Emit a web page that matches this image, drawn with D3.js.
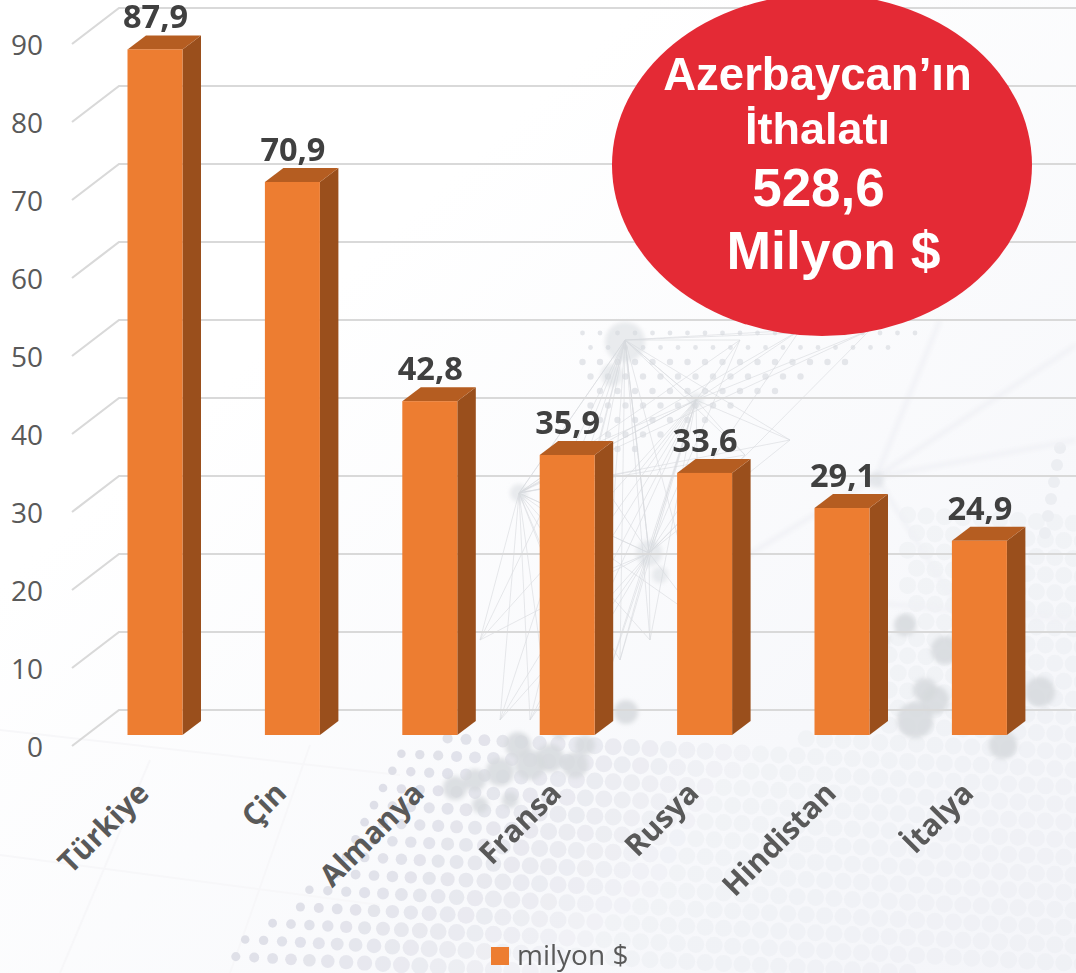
<!DOCTYPE html>
<html><head><meta charset="utf-8">
<script src="https://cdnjs.cloudflare.com/ajax/libs/d3/7.8.5/d3.min.js"></script>
<style>html,body{margin:0;padding:0;background:#fff;overflow:hidden}svg{display:block}text{font-family:"Open Sans",sans-serif}</style>
</head><body><svg id="c" width="1076" height="973"></svg>
<script>
const categories=["Türkiye","Çin","Almanya","Fransa","Rusya","Hindistan","İtalya"];
const values=[87.9,70.9,42.8,35.9,33.6,29.1,24.9];
const valueLabels=["87,9","70,9","42,8","35,9","33,6","29,1","24,9"];
const yTicks=[0,10,20,30,40,50,60,70,80,90];
const legendLabel="milyon $";
const calloutLines=["Azerbaycan’ın","İthalatı","528,6"," Milyon $"];

const svg=d3.select("#c");
const defs=svg.append("defs");
const g=defs.append("linearGradient").attr("id","bg").attr("x1",0).attr("y1",0).attr("x2",1).attr("y2",1);
g.append("stop").attr("offset",.3).attr("stop-color","#ffffff");
g.append("stop").attr("offset",.75).attr("stop-color","#f7f8fb");
g.append("stop").attr("offset",1).attr("stop-color","#f4f5f9");
svg.append("rect").attr("width",1076).attr("height",973).attr("fill","url(#bg)");
defs.append("filter").attr("id","b1").append("feGaussianBlur").attr("stdDeviation",.7);
defs.append("filter").attr("id","b2").append("feGaussianBlur").attr("stdDeviation",2);

// decorative background (not data)
const deco=svg.append("g");
// faint perspective lines lower left
[[0,730,400,775],[0,855,380,905],[150,760,60,973],[310,745,230,973]].forEach(l=>deco.append("line").attr("x1",l[0]).attr("y1",l[1]).attr("x2",l[2]).attr("y2",l[3]).attr("stroke","#f7f7f9").attr("stroke-width",2));
// lower dot field
const leftEdge=y=>y<880?405-(y-745)*.63:320-(y-880)*1.3;
for(let r=-4;r<24;r++){for(let c=0;c<62;c++){
  const x=190+c*18.4+(r%2?9:0);
  const y=560+r*17.6+(x-400)*.05;
  const left=leftEdge(y);
  if(x<left||y>973) continue;
  if(y<738&&x<830) continue;
  if(y<620&&x<900) continue;
  const d=x-left;
  const o=Math.max(.2,1-d/430);
  deco.append("circle").attr("cx",x).attr("cy",y).attr("r",Math.min(8.5,4.2+d/45)).attr("fill","#dcdde6").attr("opacity",o*.95);
}}
// upper small dots
for(let r=0;r<10;r++){for(let c=0;c<24;c++){
  const y=333+r*14.5; const x=565+c*17.5+(r%2?8:0);
  if(x>925-r*36||x<575+r*3) continue;
  deco.append("circle").attr("cx",x).attr("cy",y).attr("r",r<2?2.4:3.2).attr("fill","#e4e6ea");
}}
for(let r=0;r<6;r++){deco.append("circle").attr("cx",1060-r*3).attr("cy",448+r*17).attr("r",6).attr("fill","#eceef2");}
// network lines
const net=deco.append("g").attr("filter","url(#b1)");
const fans=[[625,340],[696,400],[519,493],[649,553]];
const far=[[625,340],[696,400],[519,493],[649,553],[580,450],[745,455],[790,440],[740,340],[800,330],[870,330],[480,640],[500,720],[530,720],[550,720],[620,660],[600,700],[650,640],[700,620],[560,590],[640,470]];
fans.forEach(h=>far.forEach(f=>net.append("line").attr("x1",h[0]).attr("y1",h[1]).attr("x2",f[0]).attr("y2",f[1]).attr("stroke","#d8dade").attr("stroke-width",1).attr("opacity",.6)));
const rays=deco.append("g").attr("filter","url(#b2)");
[[876,477,1076,345],[876,477,940,320],[876,477,1076,440],[876,477,960,610],[876,477,740,560],[840,600,1076,620]].forEach(l=>rays.append("line").attr("x1",l[0]).attr("y1",l[1]).attr("x2",l[2]).attr("y2",l[3]).attr("stroke","#f0f1f5").attr("stroke-width",4));
// blobs
const blobs=deco.append("g").attr("filter","url(#b2)");
[[625,342,20],[612,375,11],[519,493,9],[696,400,7],[649,553,13],[660,575,8],[876,480,8],[626,712,12],[518,745,13],[575,765,13],[455,788,12],[475,780,11],[500,772,14],[530,765,15],[550,758,14],[585,745,10],[560,730,9],[480,805,8],[510,800,8],[1040,692,15],[1003,745,14],[915,720,18],[925,690,12],[905,625,11],[945,650,14],[935,700,14],[880,640,9],[860,625,7]]
 .forEach(b=>blobs.append("circle").attr("cx",b[0]).attr("cy",b[1]).attr("r",b[2]).attr("fill","#d6d9dd").attr("opacity",b[1]<600?.5:.85));

// scales
const y=d3.scaleLinear().domain([0,90]).range([735,33]);
const bw=55, step=137.4;
const x=d3.scaleBand().domain(categories).range([127.5-41.2,127.5-41.2+step*7]).paddingInner(1-bw/step).paddingOuter((1-bw/step)/2);
const dx=18.5, dy=14, frontOff=11, backOff=-25, gridL=72, gridB=119;

// gridlines
svg.append("g").selectAll("path").data(yTicks).join("path")
 .attr("d",v=>d3.line()([[gridL,y(v)+frontOff],[gridB,y(v)+backOff],[1076,y(v)+backOff]]))
 .attr("fill","none").attr("stroke","#d9d9d9").attr("stroke-width",2.2);

// y axis
const yAxis=svg.append("g").attr("transform",`translate(43,${frontOff+2})`).call(d3.axisLeft(y).tickValues(yTicks).tickSize(0).tickPadding(0).tickFormat(d3.format("d")));
yAxis.select(".domain").remove();
yAxis.selectAll("text").attr("font-size",28).attr("fill","#595959").style("font-family",'"Open Sans",sans-serif');

// bars
const bars=svg.append("g").selectAll("g").data(categories).join("g");
bars.append("path").attr("fill","#9a4f1c").attr("d",(d,i)=>{const X=x(d)+bw,T=y(values[i]),B=y(0);return d3.line()([[X,T],[X+dx,T-dy],[X+dx,B-dy],[X,B]])+"Z";});
bars.append("path").attr("fill","#b55d21").attr("d",(d,i)=>{const X=x(d),T=y(values[i]);return d3.line()([[X,T],[X+dx,T-dy],[X+bw+dx,T-dy],[X+bw,T]])+"Z";});
bars.append("rect").attr("x",d=>x(d)).attr("y",(d,i)=>y(values[i])).attr("width",bw).attr("height",(d,i)=>y(0)-y(values[i])).attr("fill","#ed7d31");
bars.append("text").text((d,i)=>valueLabels[i]).attr("x",d=>x(d)+bw/2+.5).attr("y",(d,i)=>y(values[i])-21)
 .attr("text-anchor","middle").attr("font-size",32.5).attr("font-weight",700).attr("fill","#404040");

// category labels
svg.append("g").selectAll("text").data(categories).join("text").text(d=>d)
 .attr("transform",d=>`translate(${x(d)+bw/2-20},${779}) rotate(-45)`)
 .attr("text-anchor","end").attr("dy","0.75em").attr("font-size",30).attr("font-weight",700).attr("fill","#595959");

// legend
svg.append("rect").attr("x",491).attr("y",947).attr("width",18).attr("height",18).attr("fill","#ed7d31");
svg.append("text").text(legendLabel).attr("x",517).attr("y",965).attr("font-size",28).attr("fill","#595959");

// callout
svg.append("ellipse").attr("cx",822).attr("cy",165).attr("rx",210).attr("ry",171).attr("fill","#e42a35");
const cy=[90,144,206,269], cs=[45.5,45,53,53.5], cx=[817.5,817.5,818.5,833.5];
svg.append("g").selectAll("text").data(calloutLines).join("text").text(d=>d.trim())
 .attr("x",(d,i)=>cx[i]).attr("y",(d,i)=>cy[i]).attr("text-anchor","middle").attr("font-size",(d,i)=>cs[i])
 .attr("font-weight",700).attr("fill","#fff").style("font-family",'"Liberation Sans",Arial,sans-serif');
</script></body></html>
